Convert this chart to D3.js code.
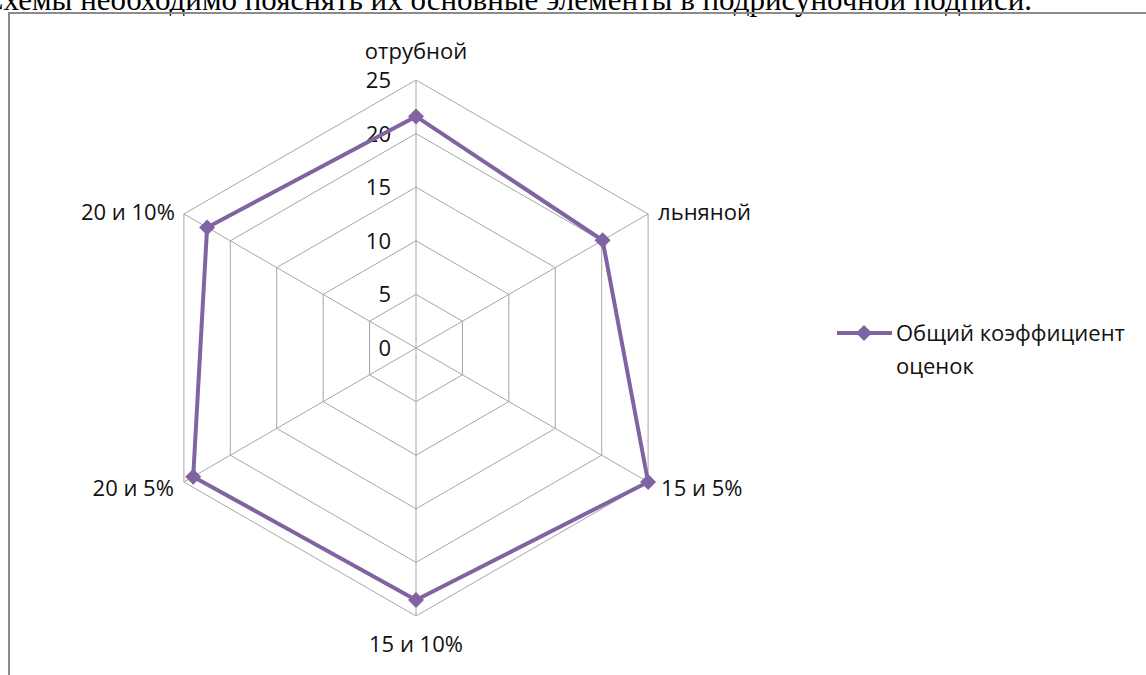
<!DOCTYPE html>
<html>
<head>
<meta charset="utf-8">
<script src="https://cdn.jsdelivr.net/npm/d3@7"></script>
<style>
  html, body { margin: 0; padding: 0; background: #fff; }
  svg { display: block; }
</style>
</head>
<body>
<svg id="chart" width="1146" height="675"></svg>
<script>
// ---- data ----
const categories = ["отрубной", "льняной", "15 и 5%", "15 и 10%", "20 и 5%", "20 и 10%"];
const seriesName = "Общий коэффициент оценок";
const seriesValues = [21.6, 20.1, 25.0, 23.5, 24.0, 22.5];
const tickValues = [0, 5, 10, 15, 20, 25];
const headerText = "Схемы необходимо пояснять их основные элементы в подрисуночной подписи.";

// ---- setup ----
const W = 1146, H = 675;
const cx = 416, cy = 348, R = 268;
const purple = "#8064A2";
const gridColor = "#a6a6a6";
const labelFont = "'Open Sans', 'Noto Sans', sans-serif";
const labelSize = 22;

const svg = d3.select("#chart");

// header text (clipped at top, as in the reference) and frame
svg.append("text")
  .attr("x", 1032).attr("y", 10)
  .attr("text-anchor", "end")
  .attr("font-family", "'Liberation Serif', 'Times New Roman', serif")
  .attr("font-size", 31)
  .attr("fill", "#000")
  .text(headerText);

svg.append("path")
  .attr("d", d3.line()([[9, H], [9, 13], [W, 13]]))
  .attr("fill", "none")
  .attr("stroke", "#8c8c8c")
  .attr("stroke-width", 2);

const r = d3.scaleLinear().domain([0, 25]).range([0, R]);
const ang = (c) => categories.indexOf(c) * 2 * Math.PI / categories.length;
const pt = (c, v) => [cx + r(v) * Math.sin(ang(c)), cy - r(v) * Math.cos(ang(c))];

const g = svg.append("g");

// rings
const ringLine = d3.line().curve(d3.curveLinearClosed);
g.selectAll("path.ring")
  .data(tickValues.filter(t => t > 0))
  .join("path")
  .attr("class", "ring")
  .attr("d", t => ringLine(categories.map(c => pt(c, t))))
  .attr("fill", "none")
  .attr("stroke", gridColor)
  .attr("stroke-width", 1);

// spokes
g.selectAll("line.spoke")
  .data(categories)
  .join("line")
  .attr("class", "spoke")
  .attr("x1", cx).attr("y1", cy)
  .attr("x2", c => pt(c, 25)[0])
  .attr("y2", c => pt(c, 25)[1])
  .attr("stroke", gridColor)
  .attr("stroke-width", 1);

// tick labels
g.selectAll("text.tick")
  .data(tickValues)
  .join("text")
  .attr("class", "tick")
  .attr("x", cx - 25)
  .attr("y", t => cy - r(t))
  .attr("dy", "0.36em")
  .attr("text-anchor", "end")
  .attr("font-family", labelFont)
  .attr("font-size", labelSize)
  .attr("fill", "#111")
  .text(t => t);

// category labels
const catPos = {
  "отрубной": { dx: 0, dy: -29, anchor: "middle" },
  "льняной": { dx: 10, dy: -2, anchor: "start" },
  "15 и 5%": { dx: 13, dy: 6, anchor: "start" },
  "15 и 10%": { dx: 0, dy: 28, anchor: "middle" },
  "20 и 5%": { dx: -10, dy: 6, anchor: "end" },
  "20 и 10%": { dx: -9, dy: -2, anchor: "end" }
};
g.selectAll("text.cat")
  .data(categories)
  .join("text")
  .attr("class", "cat")
  .attr("x", c => pt(c, 25)[0] + catPos[c].dx)
  .attr("y", c => pt(c, 25)[1] + catPos[c].dy)
  .attr("dy", "0.36em")
  .attr("text-anchor", c => catPos[c].anchor)
  .attr("font-family", labelFont)
  .attr("font-size", labelSize)
  .attr("fill", "#111")
  .text(c => c);

// series
const pts = categories.map((c, i) => pt(c, seriesValues[i]));
g.append("path")
  .attr("d", ringLine(pts))
  .attr("fill", "none")
  .attr("stroke", purple)
  .attr("stroke-width", 4)
  .attr("stroke-linejoin", "round");

const diamond = d3.symbol().type(d3.symbolSquare).size(128);
g.selectAll("path.marker")
  .data(pts)
  .join("path")
  .attr("class", "marker")
  .attr("d", diamond)
  .attr("transform", d => `translate(${d[0]},${d[1]}) rotate(45)`)
  .attr("fill", purple);

// legend
const lg = svg.append("g");
lg.append("line")
  .attr("x1", 837).attr("x2", 892)
  .attr("y1", 333).attr("y2", 333)
  .attr("stroke", purple).attr("stroke-width", 4);
lg.append("path")
  .attr("d", diamond)
  .attr("transform", "translate(864,333) rotate(45)")
  .attr("fill", purple);
const legendLines = ["Общий коэффициент", "оценок"];
lg.selectAll("text")
  .data(legendLines)
  .join("text")
  .attr("x", 896)
  .attr("y", (d, i) => 333 + i * 33)
  .attr("dy", "0.36em")
  .attr("font-family", labelFont)
  .attr("font-size", labelSize)
  .attr("fill", "#111")
  .text(d => d);
</script>
</body>
</html>
